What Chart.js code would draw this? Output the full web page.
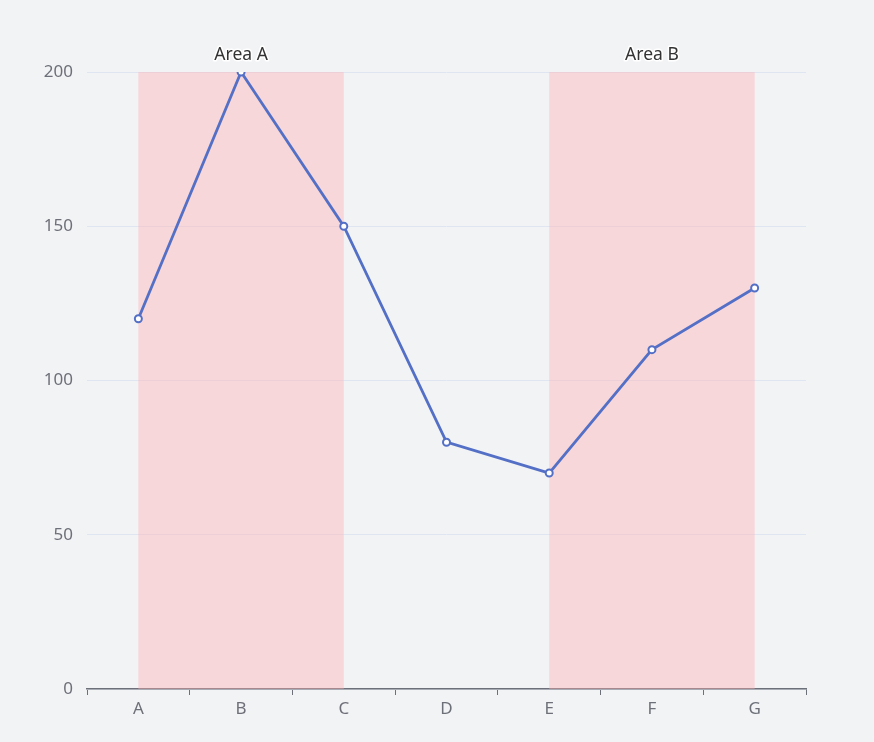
<!DOCTYPE html>
<html>
<head>
<meta charset="utf-8">
<script src="https://cdn.jsdelivr.net/npm/chart.js@4"></script>
<style>
  html, body { margin: 0; padding: 0; background: #f2f3f5; }
  #wrap { width: 874px; height: 742px; }
</style>
</head>
<body>
<div id="wrap"><canvas id="myChart" width="874" height="742"></canvas></div>
<script>
const categories = ['A', 'B', 'C', 'D', 'E', 'F', 'G'];
const values = [120, 200, 150, 80, 70, 110, 130];
const areaNames = ['Area A', 'Area B'];
const areaStarts = ['A', 'E'];
const areaEnds = ['C', 'G'];

const fontFamily = '"Noto Sans", "Open Sans", sans-serif';

// pink bands with their names, like echarts markArea
const markAreaPlugin = {
  id: 'markArea',
  beforeDatasetsDraw(chart) {
    const ctx = chart.ctx;
    const x = chart.scales.x;
    const area = chart.chartArea;
    ctx.save();
    areaNames.forEach((name, i) => {
      const x1 = x.getPixelForValue(categories.indexOf(areaStarts[i]));
      const x2 = x.getPixelForValue(categories.indexOf(areaEnds[i]));
      ctx.fillStyle = 'rgba(255, 173, 177, 0.4)';
      ctx.fillRect(x1, area.top, x2 - x1, area.bottom - area.top);
      ctx.font = '17.5px ' + fontFamily;
      ctx.textAlign = 'center';
      ctx.textBaseline = 'bottom';
      ctx.lineWidth = 3;
      ctx.strokeStyle = '#ffffff';
      ctx.lineJoin = 'round';
      ctx.strokeText(name, (x1 + x2) / 2, area.top - 8);
      ctx.fillStyle = '#333333';
      ctx.fillText(name, (x1 + x2) / 2, area.top - 8);
    });
    ctx.restore();
  }
};

const ctx = document.getElementById('myChart').getContext('2d');
const myChart = new Chart(ctx, {
  type: 'line',
  data: {
    labels: categories,
    datasets: [{
      data: values,
      borderColor: '#5470c6',
      borderWidth: 2.8,
      pointRadius: 3.5,
      pointBorderWidth: 2,
      pointBackgroundColor: '#ffffff',
      pointBorderColor: '#5470c6',
      tension: 0,
      fill: false
    }]
  },
  options: {
    responsive: false,
    animation: false,
    layout: { padding: { left: 0, top: 72, right: 68, bottom: 0 } },
    plugins: {
      legend: { display: false },
      tooltip: { enabled: false }
    },
    scales: {
      x: {
        offset: true,
        grid: {
          offset: true,
          drawOnChartArea: false,
          drawTicks: true,
          tickLength: 6,
          tickColor: '#6E7079'
        },
        border: { display: true, color: '#6E7079', width: 1.5 },
        ticks: {
          color: '#6E7079',
          font: { size: 17, family: fontFamily },
          padding: 4
        },
        afterFit(scale) { scale.height = 53; }
      },
      y: {
        min: 0,
        max: 200,
        ticks: {
          stepSize: 50,
          color: '#6E7079',
          font: { size: 17, family: fontFamily },
          padding: 14
        },
        grid: { color: '#E0E6F1', drawTicks: false },
        border: { display: false },
        afterFit(scale) { scale.width = 87; }
      }
    }
  },
  plugins: [markAreaPlugin]
});
</script>
</body>
</html>
